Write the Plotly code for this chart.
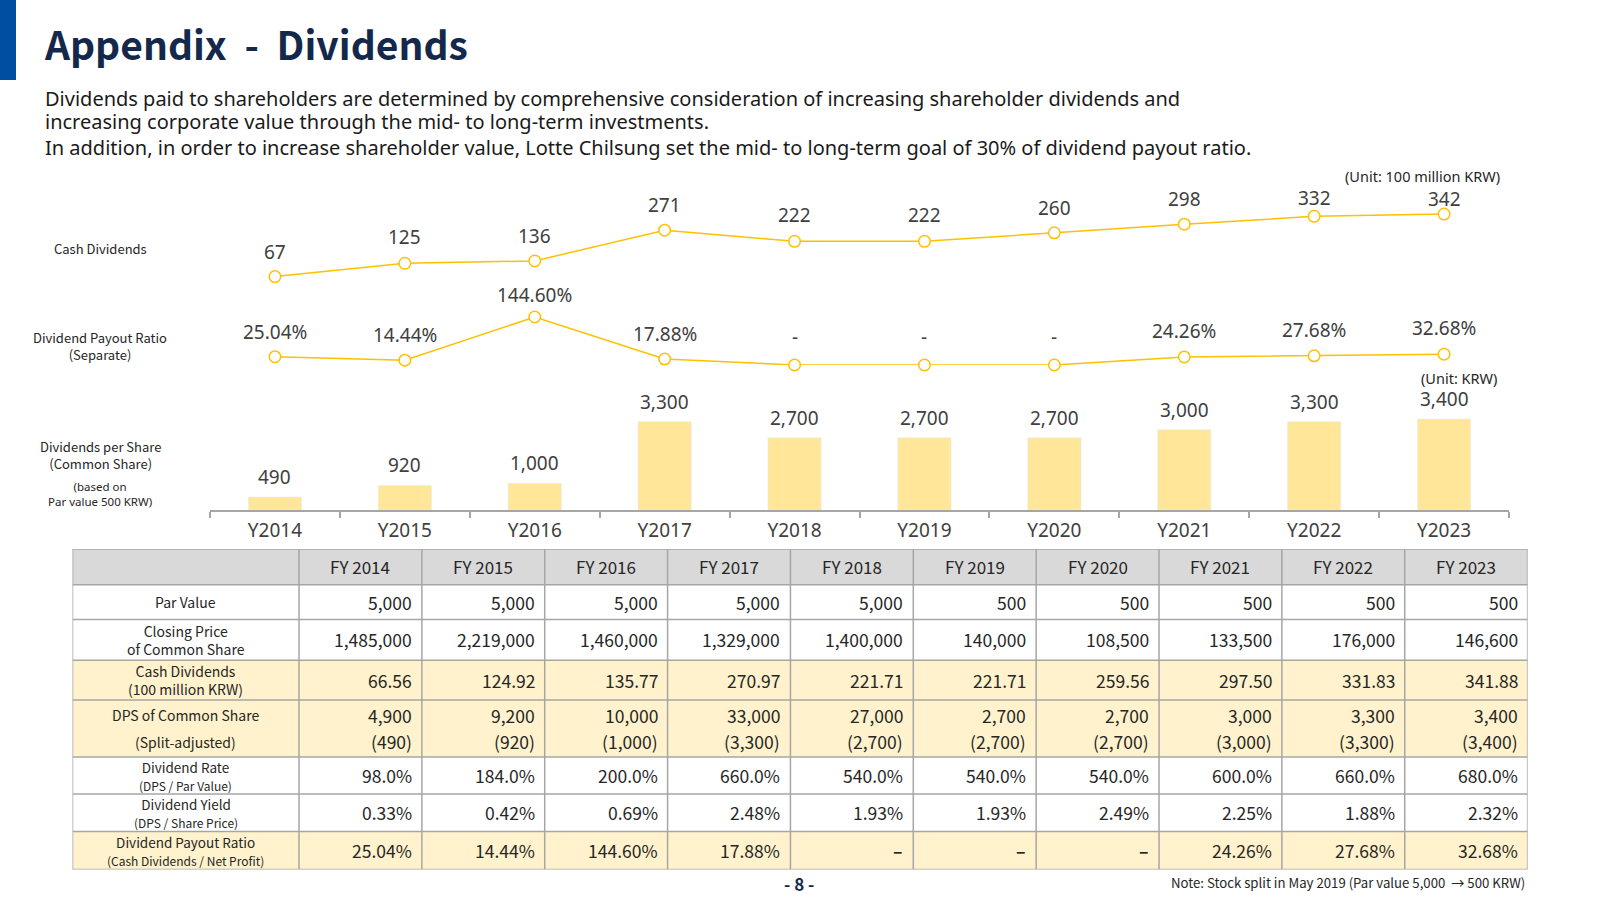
import plotly.graph_objects as go

# ---------------- data ----------------
years = ["Y2014", "Y2015", "Y2016", "Y2017", "Y2018", "Y2019", "Y2020", "Y2021", "Y2022", "Y2023"]
fy_labels = ["FY 2014", "FY 2015", "FY 2016", "FY 2017", "FY 2018", "FY 2019", "FY 2020", "FY 2021", "FY 2022", "FY 2023"]
cash_dividends = [66.56, 124.92, 135.77, 270.97, 221.71, 221.71, 259.56, 297.50, 331.83, 341.88]
payout_ratio = [25.04, 14.44, 144.60, 17.88, None, None, None, 24.26, 27.68, 32.68]
dps_split_adj = [490, 920, 1000, 3300, 2700, 2700, 2700, 3000, 3300, 3400]
dps_raw = [4900, 9200, 10000, 33000, 27000, 2700, 2700, 3000, 3300, 3400]
par_value = [5000, 5000, 5000, 5000, 5000, 500, 500, 500, 500, 500]
closing_price = [1485000, 2219000, 1460000, 1329000, 1400000, 140000, 108500, 133500, 176000, 146600]
dividend_rate = [98.0, 184.0, 200.0, 660.0, 540.0, 540.0, 540.0, 600.0, 660.0, 680.0]
dividend_yield = [0.33, 0.42, 0.69, 2.48, 1.93, 1.93, 2.49, 2.25, 1.88, 2.32]

# ---------------- styles ----------------
W, H = 1600, 900
GOLD = "#FFC000"
BAR = "#FFE699"
TXT = "#404040"
DARK = "#262626"
NAVY = "#14284B"
GRID = "#A6A6A6"
CJK = "Noto Sans CJK KR"
SANS = "Noto Sans"
cash_label_shift = [25, 26, 25, 25, 26, 26, 25, 25, 18, 15]   # px above each marker
payout_label_shift = [25, 25, 22, 25, 28, 28, 28, 26, 26, 26]


def py(p):
    return 1 - p / H


def px(p):
    return p / W


def note(x, y, text, font, xanchor="center", yanchor="middle", **kw):
    d = dict(x=x, y=y, xref="paper", yref="paper", text=text, showarrow=False,
             xanchor=xanchor, yanchor=yanchor, font=font)
    d.update(kw)
    return d


fig = go.Figure()

# bars: dividends per share
fig.add_trace(go.Bar(x=years, y=dps_split_adj, marker_color=BAR, width=0.41,
                     xaxis="x", yaxis="y", hoverinfo="skip"))

# payout ratio line ("-" years plotted at 0)
payout_plot = [v if v is not None else 0 for v in payout_ratio]
fig.add_trace(go.Scatter(x=years, y=payout_plot, mode="lines+markers",
                         line=dict(color=GOLD, width=1.5),
                         marker=dict(symbol="circle", size=11.5, color="white",
                                     line=dict(color=GOLD, width=1.5)),
                         xaxis="x", yaxis="y2", cliponaxis=False, hoverinfo="skip"))

# cash dividends line
fig.add_trace(go.Scatter(x=years, y=cash_dividends, mode="lines+markers",
                         line=dict(color=GOLD, width=1.5),
                         marker=dict(symbol="circle", size=11.5, color="white",
                                     line=dict(color=GOLD, width=1.5)),
                         xaxis="x", yaxis="y3", cliponaxis=False, hoverinfo="skip"))

annotations = []
lab_font = dict(family=SANS, size=19, color=TXT)
for yr, v, s in zip(years, cash_dividends, cash_label_shift):
    annotations.append(dict(x=yr, y=v, xref="x", yref="y3", text=str(int(v + 0.5)),
                            showarrow=False, yshift=s, font=lab_font))
for yr, v, vp, s in zip(years, payout_ratio, payout_plot, payout_label_shift):
    annotations.append(dict(x=yr, y=vp, xref="x", yref="y2",
                            text=("-" if v is None else f"{v:.2f}%"),
                            showarrow=False, yshift=s, font=lab_font))
for yr, v in zip(years, dps_split_adj):
    annotations.append(dict(x=yr, y=v, xref="x", yref="y", text=f"{v:,}",
                            showarrow=False, yshift=20, font=lab_font))

# left row labels of chart
side_font = dict(family=CJK, size=13, color=DARK)
annotations += [
    note(px(100), py(248), "Cash Dividends", side_font),
    note(px(100), py(346), "Dividend Payout Ratio<br>(Separate)", side_font),
    note(px(100), py(455), "Dividends per Share<br>(Common Share)", side_font),
    note(px(100), py(494), "(based on<br>Par value 500 KRW)", dict(family=SANS, size=11.5, color=DARK)),
    note(px(1502), py(176), "(Unit: 100 million KRW)", dict(family=SANS, size=14.5, color=DARK), xanchor="right"),
    note(px(1499), py(378), "(Unit: KRW)", dict(family=SANS, size=14.5, color=DARK), xanchor="right"),
]

# title and body text
body_font = dict(family=SANS, size=20, color="#1A1A1A")
annotations += [
    note(px(42), py(43), "Appendix\u00a0 -\u00a0 Dividends",
         dict(family=CJK, size=39, color=NAVY, weight="bold"), xanchor="left"),
    note(px(43), py(98),
         "Dividends paid to shareholders are determined by comprehensive consideration of increasing shareholder dividends and",
         body_font, xanchor="left"),
    note(px(43), py(121), "increasing corporate value through the mid- to long-term investments.",
         body_font, xanchor="left"),
    note(px(43), py(148),
         "In addition, in order to increase shareholder value, Lotte Chilsung set the mid- to long-term goal of 30% of dividend payout ratio.",
         body_font, xanchor="left"),
    note(px(799), py(883), "- 8 -", dict(family=CJK, size=17, color=NAVY, weight="bold")),
    note(px(1527), py(882), "Note: Stock split in May 2019 (Par value 5,000  \u2192 500 KRW)",
         dict(family=CJK, size=13.2, color=DARK), xanchor="right"),
]

shapes = [dict(type="rect", xref="paper", yref="paper", x0=0, x1=px(16), y0=py(80), y1=1,
               fillcolor="#004EA2", line=dict(width=0), layer="below")]

# ---------------- table (drawn on its own hidden axes) ----------------
T_LEFT, T_RIGHT, T_TOP = 72.5, 1527.6, 549.0
label_w = 226.5
col_w = (T_RIGHT - T_LEFT - label_w) / 10
row_h = [35.7, 34.7, 40.8, 39.8, 57.1, 36.8, 37.7, 37.8]
row_fill = ["#D9D9D9", "white", "white", "#FFF2CC", "#FFF2CC", "white", "white", "#FFF2CC"]
TW = T_RIGHT - T_LEFT
TH = sum(row_h)
edges = [0]
for h in row_h:
    edges.append(edges[-1] + h)
col_edges = [0, label_w] + [label_w + col_w * (i + 1) for i in range(10)]

for i, h in enumerate(row_h):
    shapes.append(dict(type="rect", xref="x4", yref="y4", x0=0, x1=TW, y0=edges[i], y1=edges[i + 1],
                       fillcolor=row_fill[i], line=dict(width=0), layer="below"))
for e in edges:
    shapes.append(dict(type="line", xref="x4", yref="y4", x0=0, x1=TW, y0=e, y1=e,
                       line=dict(color=GRID, width=1.5)))
for c in col_edges:
    shapes.append(dict(type="line", xref="x4", yref="y4", x0=c, x1=c, y0=0, y1=TH,
                       line=dict(color=GRID, width=1.5)))

val_font = dict(family=CJK, size=17.5, color=DARK)
hdr_font = dict(family=CJK, size=17, color=DARK)


def cell_center_y(r, frac=0.5):
    return edges[r] + row_h[r] * frac


# header
for j, t in enumerate(fy_labels):
    annotations.append(dict(x=(col_edges[j + 1] + col_edges[j + 2]) / 2, y=cell_center_y(0), xref="x4", yref="y4",
                            text=t, showarrow=False, font=hdr_font))

small = "<span style='font-size:12px'>{}</span>"
row_labels = [
    (1, "Par Value", 0.5, 14),
    (2, "Closing Price<br>of Common Share", 0.5, 14),
    (3, "Cash Dividends<br>(100 million KRW)", 0.5, 14),
    (4, "DPS of Common Share", 0.27, 14),
    (4, "(Split-adjusted)", 0.735, 14),
    (5, "Dividend Rate<br>" + small.format("(DPS / Par Value)"), 0.5, 13.5),
    (6, "Dividend Yield<br>" + small.format("(DPS / Share Price)"), 0.5, 13.5),
    (7, "Dividend Payout Ratio<br>" + small.format("(Cash Dividends / Net Profit)"), 0.5, 13.5),
]
for r, t, f, s in row_labels:
    annotations.append(dict(x=label_w / 2, y=cell_center_y(r, f), xref="x4", yref="y4", text=t,
                            showarrow=False, font=dict(family=CJK, size=s, color=DARK)))

table_rows = [
    (1, [f"{v:,}" for v in par_value], 0.5),
    (2, [f"{v:,}" for v in closing_price], 0.5),
    (3, [f"{v:.2f}" for v in cash_dividends], 0.5),
    (4, [f"{v:,}" for v in dps_raw], 0.27),
    (4, [f"({v:,})" for v in dps_split_adj], 0.735),
    (5, [f"{v:.1f}%" for v in dividend_rate], 0.5),
    (6, [f"{v:.2f}%" for v in dividend_yield], 0.5),
    (7, [("<b>\u2013</b>" if v is None else f"{v:.2f}%") for v in payout_ratio], 0.5),
]
for r, vals, f in table_rows:
    for j, t in enumerate(vals):
        annotations.append(dict(x=col_edges[j + 2] - 8, y=cell_center_y(r, f), xref="x4", yref="y4", text=t,
                                showarrow=False, xanchor="right", font=val_font))

fig.update_layout(
    width=W, height=H, margin=dict(l=0, r=0, t=0, b=0),
    paper_bgcolor="white", plot_bgcolor="rgba(0,0,0,0)",
    showlegend=False, bargap=0.5,
    xaxis=dict(domain=[px(210), px(1509)], type="category", categoryorder="array", categoryarray=years,
               range=[-0.5, len(years) - 0.5], autorange=False,
               anchor="y", showline=True, linecolor=GRID, linewidth=1.5,
               ticks="outside", tickson="boundaries", ticklen=6, tickcolor=GRID, tickwidth=1.5,
               ticklabelstandoff=2,
               showgrid=False, zeroline=False, tickfont=dict(family=SANS, size=19, color=TXT), fixedrange=True),
    yaxis=dict(domain=[py(510), py(400)], range=[0, 3400 * 110 / 91], visible=False, fixedrange=True),
    yaxis2=dict(domain=[py(365), py(300)], range=[0, 65 / 0.332], visible=False, anchor="x", fixedrange=True),
    yaxis3=dict(domain=[py(291.7), py(200)], range=[0, 91.7 / 0.227], visible=False, anchor="x", fixedrange=True),
    xaxis4=dict(domain=[px(T_LEFT), px(T_RIGHT)], range=[0, TW], visible=False, anchor="y4", fixedrange=True),
    yaxis4=dict(domain=[py(T_TOP + TH), py(T_TOP)], range=[TH, 0], visible=False, anchor="x4", fixedrange=True),
    annotations=annotations,
    shapes=shapes,
)

fig.write_html("out.html", config={"displayModeBar": False},
               post_script="document.body.style.margin='0px';document.body.style.overflow='hidden';")
